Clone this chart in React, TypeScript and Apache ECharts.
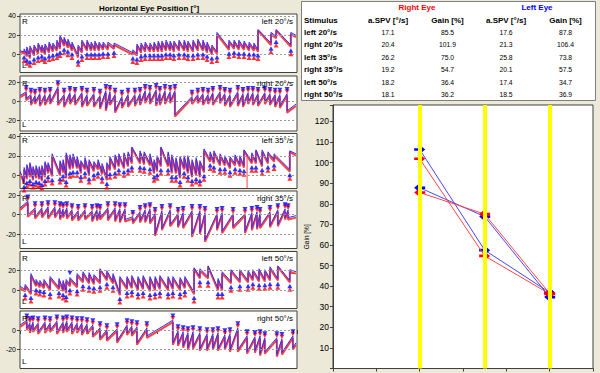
import React, { useEffect, useRef } from 'react';
import * as echarts from 'echarts';

// ---------- Summary table / gain data ----------
const stimuli = ['left 20°/s', 'right 20°/s', 'left 35°/s', 'right 35°/s', 'left 50°/s', 'right 50°/s'];
const stimDirection = ['left', 'right', 'left', 'right', 'left', 'right'];
const stimSpeed = [20, 20, 35, 35, 50, 50];
const speedLines = [20, 35, 50];
const rightSPV = [17.1, 20.4, 26.2, 19.2, 18.2, 18.1];
const rightGain = [85.5, 101.9, 75.0, 54.7, 36.4, 36.2];
const leftSPV = [17.6, 21.3, 25.8, 20.1, 17.4, 18.5];
const leftGain = [87.8, 106.4, 73.8, 57.5, 34.7, 36.9];

// ---------- Eye position traces ----------
// beat: [time s, right eye before fast phase, right eye after, left eye before, left eye after]
// edges: [[t, right, left] start, [t, right, left] end]
const p1Beats = [
  [1.2, 1, 4, 3, 6], [2.0, -2, 6, 0, 8], [2.9, -4, 7, -2, 9], [4.1, -1, 8, 1, 10], [5.3, 1, 10, 3, 12],
  [6.4, 2, 8, 4, 10], [7.3, 0, 9, 2, 11], [8.5, 2, 11, 4, 13], [9.6, 3, 10, 5, 12], [10.8, 4, 13, 6, 15],
  [11.7, 6, 18, 8, 20], [12.9, 9, 16, 11, 18], [14.0, 7, 14, 9, 16], [15.2, 4, 11, 6, 13], [17.0, -3, 8, -1, 10],
  [18.1, 2, 13, 4, 15], [19.6, 4, 13, 6, 15], [20.8, 4, 11, 6, 13], [21.9, 4, 12, 6, 14], [23.1, 4, 11, 6, 13],
  [24.3, 5, 11, 7, 13], [25.7, 5, 11, 7, 13], [27.5, 6, 10, 8, 12], [33.0, 0, 3, 2, 5], [34.2, -1, 9, 1, 11],
  [35.4, 2, 10, 4, 12], [36.6, 3, 11, 5, 13], [38.0, 3, 10, 5, 12], [39.2, 3, 11, 5, 13], [40.4, 3, 12, 5, 14],
  [41.5, 3, 12, 5, 14], [42.7, 4, 13, 6, 15], [43.9, 4, 12, 6, 14], [45.0, 3, 12, 5, 14], [46.5, 4, 13, 6, 15],
  [48.0, 4, 13, 6, 15], [49.1, 3, 12, 5, 14], [50.6, 3, 13, 5, 15], [52.0, 4, 14, 6, 16], [53.5, 4, 13, 6, 15],
  [54.7, 2, 11, 4, 13], [56.1, 0, 8, 2, 10], [57.6, 1, 21, 3, 23], [61.1, 5, 13, 7, 15], [62.6, 6, 13, 8, 15],
  [64.0, 5, 13, 7, 15], [65.5, 5, 12, 7, 14], [67.0, 4, 11, 6, 13], [68.4, 4, 10, 6, 12], [69.6, 3, 25, 5, 26],
  [73.4, 10, 21, 12, 23], [74.9, 17, 25, 19, 26], [79.2, 8, 21, 10, 23],
];
const p1Edges = [[0, 3, 4], [80.7, 18, 20]];

const p2Beats = [
  [1.8, 8, 1, 10, 3], [3.2, 5, -4, 7, -2], [4.4, 4, -3, 6, -1], [5.8, 6, -5, 8, -3], [7.3, 5, -4, 7, -2],
  [8.8, 6, -3, 8, -1], [11.1, 13, -4, 15, -2], [12.9, 5, -6, 7, -4], [14.6, 7, -3, 9, -1], [16.1, 6, -4, 8, -2],
  [18.1, 7, -6, 9, -4], [19.6, 5, -5, 7, -3], [21.6, 6, -6, 8, -4], [23.4, 4, -8, 6, -6], [25.1, 9, -10, 11, -8],
  [26.3, 8, -4, 10, -2], [27.8, 5, -12, 7, -10], [29.8, 3, -7, 5, -5], [31.6, 5, -6, 7, -4], [33.6, 5, -5, 7, -3],
  [35.1, 6, -4, 8, -2], [36.6, 9, -2, 11, 0], [38.0, 8, -3, 10, -1], [39.8, 10, -5, 12, -3], [40.9, 7, -4, 9, -2],
  [42.4, 9, -3, 11, -1], [43.9, 8, -2, 10, 0], [45.3, 9, -16, 11, -14], [50.3, 3, -3, 5, -1], [52.0, 5, -2, 7, 0],
  [53.5, 6, -4, 8, -2], [55.0, 5, -3, 7, -1], [56.4, 7, -4, 9, -2], [58.5, 8, -2, 10, 0], [59.9, 6, -5, 8, -3],
  [61.4, 5, -6, 7, -4], [63.7, 8, -5, 10, -3], [65.2, 6, -6, 8, -4], [66.7, 7, -3, 9, -1], [68.1, 7, -4, 9, -2],
  [69.6, 6, -5, 8, -3], [71.6, 7, -3, 9, -1], [73.1, 6, -4, 8, -2], [74.6, 5, -6, 7, -4], [76.0, 5, -7, 7, -5],
  [78.1, 6, -12, 8, -10],
];
const p2Edges = [[0, 4, 6], [80.7, -5, -3]];

const p3Beats = [
  [1.2, -8, 6, -6, 8], [2.0, -4, 9, -2, 11], [2.9, -2, 11, 0, 13], [3.8, -5, 7, -3, 9], [4.7, -3, 8, -1, 10],
  [5.6, -4, 7, -2, 9], [6.4, -6, 8, -4, 10], [7.3, -2, 12, 0, 14], [8.2, 2, 11, 4, 13], [9.4, -1, 20, 1, 22],
  [11.7, 0, 13, 2, 15], [12.6, 3, 14, 5, 16], [13.5, -3, 21, -1, 23], [14.6, 6, 19, 8, 21], [15.5, 7, 20, 9, 22],
  [16.7, 7, 17, 9, 19], [17.8, 2, 13, 4, 15], [19.0, 6, 16, 8, 18], [20.2, 0, 14, 2, 16], [21.6, 4, 12, 6, 14],
  [22.8, 6, 14, 8, 16], [24.0, 1, 10, 3, 12], [25.4, -5, 11, -3, 13], [26.3, 5, 17, 7, 19], [27.8, 6, 19, 8, 21],
  [28.9, 9, 20, 11, 22], [30.4, 7, 21, 9, 23], [31.6, 9, 22, 11, 24], [32.7, 12, 28, 14, 29], [35.1, 12, 23, 14, 25],
  [36.3, 11, 22, 13, 24], [38.0, 10, 20, 12, 22], [39.2, 2, 14, 4, 16], [40.1, 4, 18, 6, 20], [41.2, 9, 28, 11, 29],
  [43.3, 9, 22, 11, 24], [44.4, 2, 19, 4, 21], [45.6, 2, 16, 4, 18], [46.8, -3, 17, -1, 19], [48.0, 6, 18, 8, 20],
  [49.1, 2, 18, 4, 20], [50.3, -2, 14, 0, 16], [51.5, 0, 16, 2, 18], [52.6, -2, 13, 0, 15], [53.8, 3, 25, 5, 27],
  [55.6, 14, 22, 16, 24], [56.7, 12, 23, 14, 25], [58.5, 10, 20, 12, 22], [59.9, 10, 18, 12, 20], [61.4, 7, 17, 9, 19],
  [62.9, 10, 19, 12, 21], [64.3, 9, 18, 11, 20], [65.5, 8, 25, 10, 26], [67.8, 12, 21, 14, 23], [69.0, 12, 25, 14, 26],
  [70.8, 9, 24, 11, 26], [72.5, 12, 22, 14, 24], [74.3, 14, 20, 16, 22], [78.9, 4, 24, 6, 25],
];
const p3Edges = [[0, 2, 4], [80.7, 20, 22]];
const p3RightEyeSpike = [[66.4, 20], [66.4, -13]];

const p4Beats = [
  [2.3, 12, -2, 14, 0], [4.4, 5, -4, 7, -2], [6.4, 5, -3, 7, -1], [8.2, 6, -4, 8, -2], [10.2, 6, -3, 8, -1],
  [11.7, 5, -5, 7, -3], [12.6, 4, -3, 6, -1], [13.7, 5, -4, 7, -2], [15.2, 3, -6, 5, -4], [17.0, 2, -6, 4, -4],
  [19.0, 3, -5, 5, -3], [21.1, 2, -7, 4, -5], [22.5, 3, -6, 5, -4], [23.4, 2, -5, 4, -3], [25.7, 5, -6, 7, -4],
  [27.8, 5, -7, 7, -5], [29.2, 4, -8, 6, -6], [30.7, 4, -7, 6, -5], [33.0, -4, -9, -2, -7], [35.1, 1, -8, 3, -6],
  [36.6, 3, -8, 5, -6], [38.0, 4, -9, 6, -7], [39.5, -1, -22, 1, -20], [41.5, 2, -16, 4, -14], [43.9, 3, -12, 5, -10],
  [46.2, -1, -13, 1, -11], [47.7, 0, -14, 2, -12], [50.3, 2, -23, 4, -21], [52.6, 2, -20, 4, -18], [54.1, 0, -28, 2, -26],
  [57.6, -1, -16, 1, -14], [59.1, 0, -19, 2, -17], [62.3, -1, -14, 1, -12], [65.8, -1, -19, 1, -17], [67.8, 0, -16, 2, -14],
  [69.3, 1, -15, 3, -13], [70.2, -1, -14, 1, -12], [73.1, 1, -13, 3, -11], [75.4, 3, -12, 5, -10], [77.5, 4, -5, 6, -3],
  [78.4, 3, -5, 5, -3],
];
const p4Edges = [[0, 5, 7], [80.7, -3, -1]];

const p5Beats = [
  [1.5, -1, 4, 1, 6], [3.2, -4, 15, -2, 17], [4.7, 4, 9, 6, 11], [5.8, 3, 8, 5, 10], [7.0, 2, 9, 4, 11],
  [8.8, 0, 12, 2, 14], [11.4, 1, 10, 3, 12], [12.6, -1, 8, 1, 10], [13.5, -3, 9, -1, 11], [14.6, 4, 11, 6, 13],
  [16.7, 3, 15, 5, 17], [18.4, 8, 17, 10, 19], [20.2, 7, 16, 9, 18], [21.6, 6, 14, 8, 16], [23.4, 7, 21, 9, 22],
  [25.4, 10, 18, 12, 20], [27.2, 7, 15, 9, 17], [29.2, -5, 12, -3, 14], [31.3, 1, 12, 3, 14], [32.7, 2, 13, 4, 15],
  [34.5, 0, 12, 2, 14], [36.0, 1, 13, 3, 15], [38.0, -1, 12, 1, 14], [39.5, 0, 12, 2, 14], [40.9, 1, 13, 3, 15],
  [43.3, 0, 12, 2, 14], [44.7, 1, 12, 3, 14], [46.8, 0, 11, 2, 13], [48.2, 2, 12, 4, 14], [50.9, -4, 22, -2, 23],
  [52.6, 12, 20, 14, 22], [55.0, 12, 24, 14, 25], [57.9, 0, 10, 2, 12], [59.1, 0, 17, 2, 19], [61.7, 7, 19, 9, 21],
  [64.3, 8, 19, 10, 21], [66.7, 8, 18, 10, 20], [68.1, 10, 19, 12, 21], [69.9, 9, 20, 11, 22], [71.6, 9, 19, 11, 21],
  [73.1, 10, 22, 12, 24], [75.4, 10, 24, 12, 25], [78.9, 8, 19, 10, 21],
];
const p5Edges = [[0, 2, 4], [80.7, 17, 19]];
const p5LeftEyeOppositeMarks = [[14.6, 13]];

const p6Beats = [
  [2.0, 8, 0, 10, 2], [2.9, 5, -3, 7, -1], [3.8, 6, -2, 8, 0], [5.3, 5, -4, 7, -2], [7.3, 6, -3, 8, -1],
  [8.8, 5, -2, 7, 0], [10.8, 7, -4, 9, -2], [12.6, 6, -3, 8, -1], [13.7, 7, -2, 9, 0], [15.2, 6, -4, 8, -2],
  [16.7, 5, -3, 7, -1], [18.1, 5, -5, 7, -3], [19.6, 4, -4, 6, -2], [21.3, 3, -7, 5, -5], [23.4, 0, -10, 2, -8],
  [25.4, -2, -11, 0, -9], [28.4, -1, -13, 1, -11], [31.3, 3, -5, 5, -3], [32.7, 2, -6, 4, -4], [34.2, 1, -15, 3, -13],
  [37.1, 0, -8, 2, -6], [44.7, 8, -15, 10, -13], [46.2, -3, -16, -1, -14], [47.7, -4, -18, -2, -16], [49.1, -5, -20, -3, -18],
  [50.6, -4, -19, -2, -17], [52.6, -5, -21, -3, -19], [54.7, -6, -21, -4, -19], [56.4, -6, -20, -4, -18], [57.9, -5, -21, -3, -19],
  [59.9, -7, -20, -5, -18], [61.4, -6, -22, -4, -20], [63.7, 0, -22, 2, -20], [66.4, -8, -24, -6, -22], [68.7, -9, -23, -7, -21],
  [70.2, -8, -26, -6, -24], [71.6, -10, -24, -8, -22], [75.1, -10, -27, -8, -25], [76.6, -11, -25, -9, -23], [79.8, -8, -20, -6, -18],
];
const p6Edges = [[0, 3, 5], [80.7, -15, -13]];

const panelBeats = [p1Beats, p2Beats, p3Beats, p4Beats, p5Beats, p6Beats];
const panelEdges = [p1Edges, p2Edges, p3Edges, p4Edges, p5Edges, p6Edges];
const panelYRange = [[-18.4, 42], [-31.3, 26.6], [-13.4, 42.7], [-34.9, 24.5], [-18.6, 39.6], [-39.1, 19.3]];
const panelYTicks = [[0, 20, 40], [-20, 0, 20], [0, 20, 40], [-20, 0, 20], [0, 20], [-20, 0]];
const timeRange = [0, 81];
const timeTickStep = 20;
const gainRange = [0, 128];
const gainTickStep = 10;
const speedRange = [0, 60];

// ---------- layout ----------
const panelLayout = [
  { top: 14, height: 58.5 },
  { top: 76, height: 55 },
  { top: 133.5, height: 55 },
  { top: 191, height: 57.5 },
  { top: 251.5, height: 57 },
  { top: 311, height: 57.5 },
];
const PANEL_LEFT = 20;
const PANEL_WIDTH = 277;
const FONT = '"Liberation Sans", Arial, Helvetica, sans-serif';
const RED = '#ff0000';
const BLUE = '#0000ff';

const ARROW_RIGHT = 'path://M0,3.5 L6,3.5 L3,1 L4.6,-0.6 L10,5 L4.6,10.6 L3,9 L6,6.5 L0,6.5 Z';
const ARROW_LEFT = 'path://M10,3.5 L4,3.5 L7,1 L5.4,-0.6 L0,5 L5.4,10.6 L7,9 L4,6.5 L10,6.5 Z';

function tracePoints(beats: number[][], edges: number[][], eye: number) {
  const pts: number[][] = [[edges[0][0], edges[0][1 + eye]]];
  beats.forEach((b) => {
    pts.push([b[0], b[1 + 2 * eye]]);
    pts.push([b[0], b[2 + 2 * eye]]);
  });
  pts.push([edges[1][0], edges[1][1 + eye]]);
  return pts;
}

function text(t: string, x: number, y: number, o: any = {}) {
  const align = o.align || 'left';
  return {
    type: 'text',
    x,
    y,
    z: 100,
    zlevel: 0,
    silent: true,
    style: {
      text: t,
      fill: o.color || '#000',
      fontSize: o.size || 8,
      fontWeight: o.bold ? 'bold' : 'normal',
      fontFamily: FONT,
      align,
      textAlign: align,
      verticalAlign: 'middle',
      textVerticalAlign: 'middle',
    },
  };
}

function buildOption() {
  const grid: any[] = [];
  const xAxis: any[] = [];
  const yAxis: any[] = [];
  const series: any[] = [];
  const elements: any[] = [];

  panelLayout.forEach((lay, i) => {
    const last = i === panelLayout.length - 1;
    grid.push({
      left: PANEL_LEFT, top: lay.top, width: PANEL_WIDTH, height: lay.height,
      show: true, backgroundColor: '#ffffff', borderColor: '#404040', borderWidth: 1,
      containLabel: false, outerBoundsMode: 'none',
    });
    xAxis.push({
      type: 'value', gridIndex: i, min: timeRange[0], max: timeRange[1], interval: timeTickStep,
      axisLine: { show: false },
      axisTick: { show: last, length: 4, lineStyle: { color: '#404040' } },
      axisLabel: { show: false },
      splitLine: { show: false },
    });
    yAxis.push({
      type: 'value', gridIndex: i, min: panelYRange[i][0], max: panelYRange[i][1],
      axisLine: { show: false },
      axisTick: { show: true, length: 3, customValues: panelYTicks[i], lineStyle: { color: '#404040' } },
      axisLabel: {
        show: true, customValues: panelYTicks[i], fontSize: 7, color: '#000', margin: 4, fontFamily: FONT,
      },
      splitLine: { show: false },
    });
    series.push({
      type: 'line', xAxisIndex: i, yAxisIndex: i, data: [], z: 1, silent: true,
      markLine: {
        silent: true, symbol: ['none', 'none'], label: { show: false }, animation: false,
        lineStyle: { color: '#9a9a9a', type: [2, 2], width: 1 },
        data: panelYTicks[i].map((v) => ({ yAxis: v })),
      },
    });
    const beats = panelBeats[i];
    const edges = panelEdges[i];
    const up = stimDirection[i] === 'left';
    series.push({
      type: 'line', xAxisIndex: i, yAxisIndex: i, data: tracePoints(beats, edges, 0),
      symbol: 'none', showSymbol: false, z: 2, silent: true,
      lineStyle: { color: '#ff4040', width: 2 },
    });
    series.push({
      type: 'line', xAxisIndex: i, yAxisIndex: i, data: tracePoints(beats, edges, 1),
      symbol: 'none', showSymbol: false, z: 3, silent: true,
      lineStyle: { color: '#3030ff', width: 1 },
    });
    series.push({
      type: 'scatter', xAxisIndex: i, yAxisIndex: i, data: beats.map((b) => [b[0], b[1]]),
      symbol: 'triangle', symbolSize: [5, 4.5], symbolRotate: up ? 0 : 180,
      symbolOffset: [0, up ? 7 : -4], itemStyle: { color: RED }, z: 4, silent: true,
    });
    series.push({
      type: 'scatter', xAxisIndex: i, yAxisIndex: i, data: beats.map((b) => [b[0], b[3]]),
      symbol: 'triangle', symbolSize: [5, 4.5], symbolRotate: up ? 0 : 180,
      symbolOffset: [0, up ? 5.5 : -4.5], itemStyle: { color: BLUE }, z: 5, silent: true,
    });
    elements.push(text('R', PANEL_LEFT + 2, lay.top + 7, { size: 8 }));
    elements.push(text('L', PANEL_LEFT + 2, lay.top + lay.height - 7, { size: 8 }));
    elements.push(text(stimuli[i], PANEL_LEFT + PANEL_WIDTH - 4, lay.top + 7, { size: 8, align: 'right' }));
  });

  series.push({
    type: 'line', xAxisIndex: 2, yAxisIndex: 2, data: p3RightEyeSpike, symbol: 'none', z: 2, silent: true,
    lineStyle: { color: '#ff4040', width: 1 },
  });
  series.push({
    type: 'scatter', xAxisIndex: 4, yAxisIndex: 4, data: p5LeftEyeOppositeMarks,
    symbol: 'triangle', symbolSize: [5, 4.5], symbolRotate: 180, symbolOffset: [0, -4.5],
    itemStyle: { color: BLUE }, z: 5, silent: true,
  });

  elements.push(text('Horizontal Eye Position [°]', 149, 8, { bold: true, size: 8, align: 'center' }));

  // ---------- gain chart ----------
  const gi = panelLayout.length;
  grid.push({
    left: 333, top: 105, right: 7, bottom: 4.5, show: true, backgroundColor: '#ffffff',
    borderColor: '#404040', borderWidth: 1, containLabel: false, outerBoundsMode: 'none',
  });
  xAxis.push({
    type: 'value', gridIndex: gi, min: speedRange[0], max: speedRange[1], interval: 10,
    axisLine: { show: true, lineStyle: { color: '#404040' } },
    axisTick: { show: true, length: 3, lineStyle: { color: '#404040' } },
    axisLabel: { show: false }, splitLine: { show: false },
  });
  yAxis.push({
    type: 'value', gridIndex: gi, min: gainRange[0], max: gainRange[1], interval: gainTickStep,
    name: 'Gain [%]', nameLocation: 'middle', nameGap: 23, nameRotate: 90,
    nameTextStyle: { fontSize: 6.5, color: '#000', fontFamily: FONT },
    axisLine: { show: true, lineStyle: { color: '#404040' } },
    axisTick: { show: true, length: 3, lineStyle: { color: '#404040' } },
    axisLabel: {
      fontSize: 8.5, color: '#000', margin: 4, fontFamily: FONT,
      formatter: (v: number) => (v > 0 && v <= 120 && v % 10 === 0 ? String(v) : ''),
    },
    splitLine: { show: false },
  });
  series.push({
    type: 'line', xAxisIndex: gi, yAxisIndex: gi, data: [], z: 1, silent: true,
    markLine: {
      silent: true, symbol: ['none', 'none'], label: { show: false }, animation: false,
      lineStyle: { color: '#ffff00', type: 'solid', width: 4 },
      data: speedLines.map((v) => ({ xAxis: v })),
    },
  });
  const eyes = [
    { gain: leftGain, line: '#4646ff', mark: BLUE },
    { gain: rightGain, line: '#ff4646', mark: RED },
  ];
  eyes.forEach((eye, k) => {
    ['left', 'right'].forEach((dir) => {
      const data: number[][] = [];
      stimuli.forEach((_, j) => {
        if (stimDirection[j] === dir) data.push([stimSpeed[j], eye.gain[j]]);
      });
      series.push({
        type: 'line', xAxisIndex: gi, yAxisIndex: gi, data,
        symbol: dir === 'left' ? ARROW_LEFT : ARROW_RIGHT, symbolSize: [11, 10], showSymbol: true,
        symbolKeepAspect: false,
        lineStyle: { color: eye.line, width: 1 },
        itemStyle: { color: eye.mark, borderWidth: 0 },
        z: 3 + k, silent: true,
      });
    });
  });

  // ---------- table ----------
  elements.push({
    type: 'rect', z: 99, zlevel: 0, silent: true,
    shape: { x: 301.5, y: 1.5, width: 294, height: 99 },
    style: { fill: '#ffffff', stroke: '#808080', lineWidth: 1 },
  });
  elements.push(text('Right Eye', 417, 7.5, { bold: true, color: RED, align: 'center' }));
  elements.push(text('Left Eye', 537, 7.5, { bold: true, color: BLUE, align: 'center' }));
  const colX = [388, 447.5, 506, 565.5];
  const headers = ['a.SPV [°/s]', 'Gain [%]', 'a.SPV [°/s]', 'Gain [%]'];
  elements.push(text('Stimulus', 304, 20.5, { bold: true }));
  headers.forEach((h, c) => elements.push(text(h, colX[c], 20.5, { bold: true, align: 'center' })));
  const cols = [rightSPV, rightGain, leftSPV, leftGain];
  stimuli.forEach((s, r) => {
    const y = 32.2 + r * 12.55;
    elements.push(text(s, 304, y, { bold: true }));
    cols.forEach((col, c) => elements.push(text(col[r].toFixed(1), colX[c], y, { size: 6.8, align: 'center' })));
  });

  return {
    animation: false,
    backgroundColor: '#ece9d8',
    textStyle: { fontFamily: FONT },
    grid, xAxis, yAxis, series,
    graphic: { z: 100, zlevel: 0, elements },
  };
}

export default function App() {
  const ref = useRef<HTMLDivElement>(null);
  useEffect(() => {
    if (!ref.current) return;
    const chart = echarts.init(ref.current, null, { renderer: 'svg' });
    chart.setOption(buildOption() as any);
    return () => chart.dispose();
  }, []);
  return <div ref={ref} style={{ position: 'absolute', left: 0, top: 0, width: 600, height: 373 }} />;
}
